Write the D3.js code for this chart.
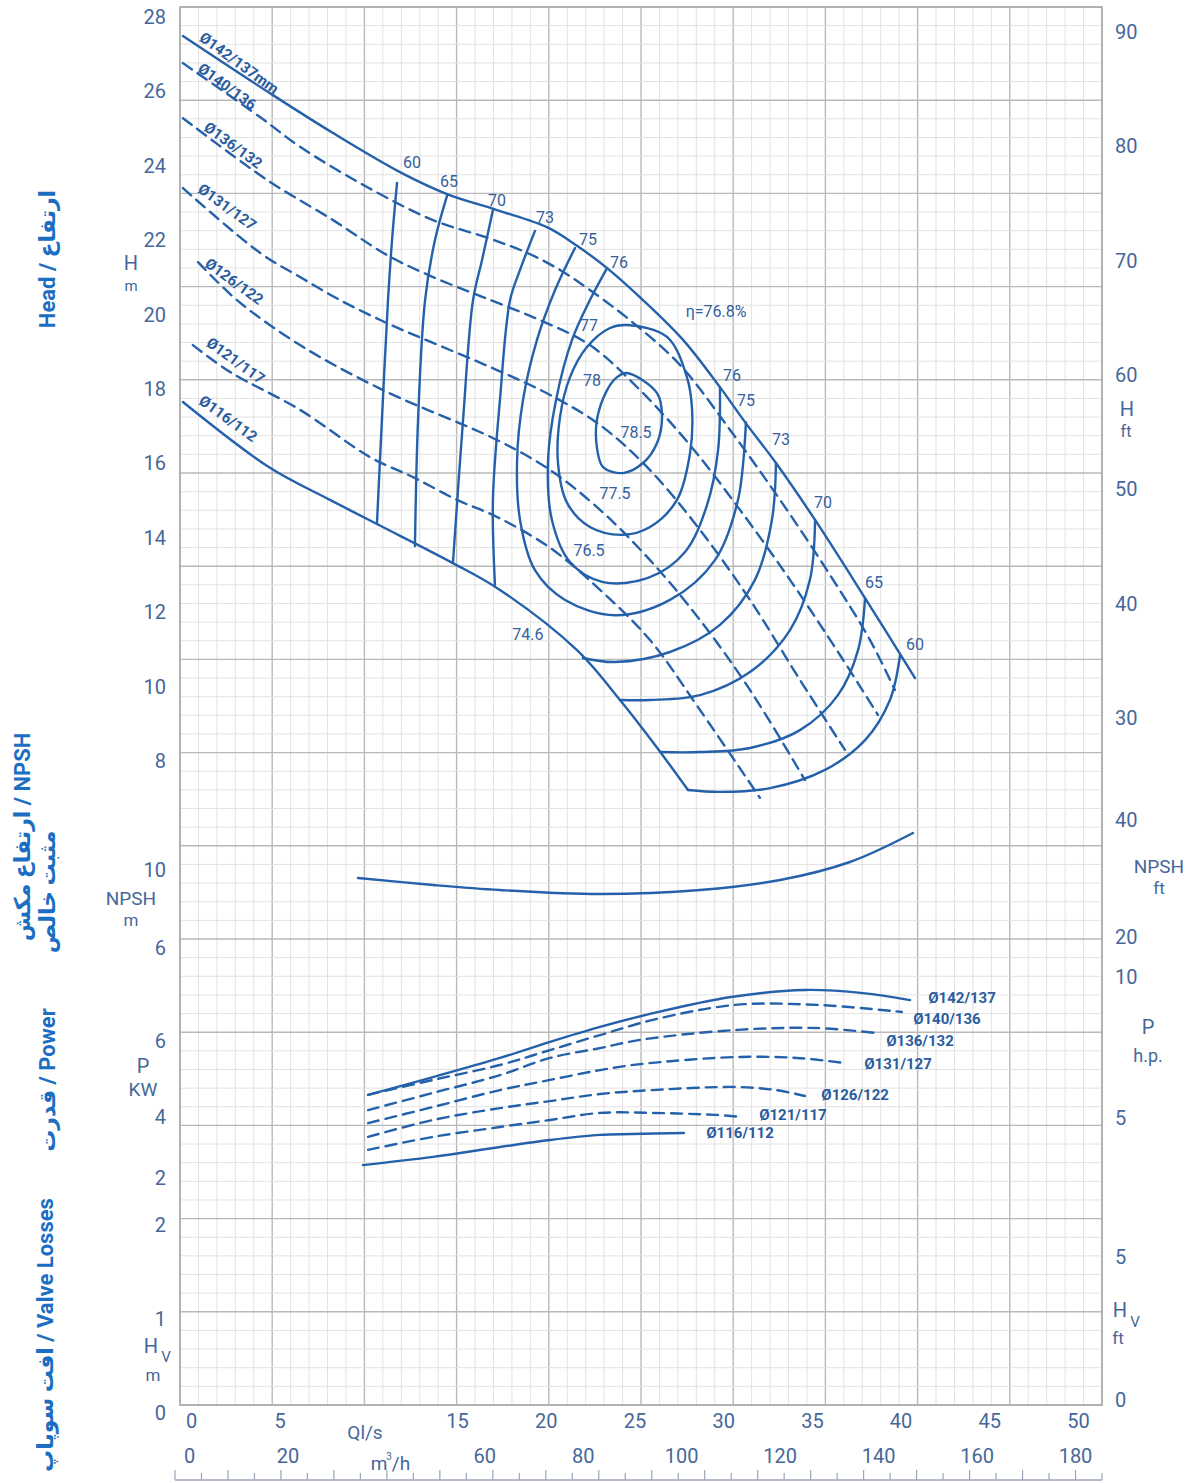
<!DOCTYPE html>
<html>
<head>
<meta charset="utf-8">
<script src="https://cdn.jsdelivr.net/npm/d3@7"></script>
<style>
  body { margin: 0; background: #fff; }
  text { font-family: Roboto, "DejaVu Sans", sans-serif; }
</style>
</head>
<body>
<svg id="chart" width="1195" height="1483"></svg>
<script>
// ---- data (flow Q in l/s, head in m, NPSH in ft, power in h.p.) ----
var qTicks = [0, 5, 15, 20, 25, 30, 35, 40, 45, 50];
var m3Ticks = [0, 20, 60, 80, 100, 120, 140, 160, 180];
var headTicks = [8, 10, 12, 14, 16, 18, 20, 22, 24, 26, 28];
var headFtTicks = [30, 40, 50, 60, 70, 80, 90];
var npshMTicks = [6, 10];
var npshFtTicks = [20, 40];
var kwTicks = [2, 4, 6];
var hpTicks = [5, 10];
var hvMTicks = [0, 1, 2];
var hvFtTicks = [0, 5];

// head curves per impeller
var head142 = [[0.16,27.49],[5.04,25.90],[8.30,24.88],[11.93,23.83],[14.48,23.24],[17.19,22.81],[19.90,22.35],[21.53,21.85],[23.16,21.25],[25.11,20.39],[27.28,19.32],[29.28,18.05],[30.64,17.11],[32.32,16.01],[34.44,14.48],[37.15,12.38],[39.86,10.23]];
var head140 = [[0.16,26.76],[4.34,25.31],[6.51,24.51],[10.14,23.43],[13.72,22.54],[16.70,22.06],[18.82,21.66],[20.61,21.20],[22.23,20.66],[24.40,19.85],[27.11,18.65],[29.83,16.90],[32.54,15.02],[35.25,13.00],[37.42,11.25],[38.77,9.91]];
var head136 = [[0.16,25.28],[4.72,23.62],[8.30,22.54],[11.23,21.60],[13.72,21.01],[16.43,20.47],[19.52,19.85],[22.23,19.18],[24.95,17.97],[27.66,16.49],[30.37,14.75],[33.08,12.87],[35.79,10.85],[37.85,9.24]];
var head131 = [[0.16,23.40],[4.34,21.66],[6.51,21.01],[8.68,20.39],[11.23,19.77],[13.72,19.24],[17.19,18.51],[20.07,17.84],[22.78,17.03],[25.49,15.82],[28.20,14.21],[30.91,12.33],[33.62,10.18],[36.06,8.30]];
var head126 = [[0.98,21.41],[3.09,20.39],[6.51,19.18],[11.01,17.97],[17.19,16.63],[20.07,15.82],[22.78,14.75],[25.49,13.40],[28.20,11.79],[30.91,9.91],[33.89,7.49]];
var head121 = [[0.70,19.18],[2.71,18.46],[6.51,17.44],[10.30,16.17],[12.64,15.63],[15.02,15.02],[17.19,14.56],[20.07,13.73],[22.78,12.60],[25.49,11.25],[28.20,9.37],[31.45,7.01]];
var head116 = [[0.16,17.65],[4.88,15.88],[8.13,15.02],[10.68,14.37],[14.80,13.32],[17.35,12.60],[21.53,10.98],[23.86,9.64],[25.76,8.43],[27.55,7.22]];

// iso-efficiency lines (%)
var eff60L = [[11.77,23.54],[11.50,22.01],[11.28,20.39],[10.95,17.17],[10.68,14.37]];
var eff65L = [[14.48,23.19],[13.83,22.01],[13.29,20.39],[12.91,17.17],[12.74,13.78]];
var eff70L = [[16.97,22.81],[16.38,21.47],[15.89,20.39],[15.35,17.17],[14.80,13.32]];
var eff73L = [[19.25,22.25],[18.44,21.20],[17.90,20.39],[17.35,17.70],[16.97,15.02],[17.08,12.73]];
var eff75 = [[21.42,21.79],[20.34,20.66],[19.36,19.32],[18.60,17.70],[18.28,16.09],[18.44,14.48],[19.25,13.13],[20.88,12.33],[23.59,11.92],[26.57,12.33],[29.01,13.40],[30.26,15.02],[30.69,17.11]];
var eff76 = [[23.16,21.25],[22.23,20.39],[21.26,19.32],[20.39,17.70],[19.96,16.09],[20.17,14.48],[21.15,13.35],[22.94,12.81],[25.38,12.92],[27.39,13.62],[28.58,14.88],[29.18,16.36],[29.28,18.05]];
var eff77 = [[24.24,19.72],[26.41,19.40],[27.49,18.32],[27.77,17.44],[27.66,16.28],[26.95,15.02],[25.49,14.29],[24.02,14.08],[22.23,14.29],[20.99,14.94],[20.50,16.01],[20.61,17.25],[21.15,18.32],[22.07,19.13],[23.32,19.64]];
var eff78 = [[24.24,18.43],[25.87,17.89],[26.14,17.25],[25.87,16.55],[25.11,16.01],[24.02,15.74],[22.94,15.90],[22.61,16.43],[22.61,17.17],[23.16,17.97],[23.70,18.32]];
var eff73R = [[32.32,16.01],[32.10,14.48],[31.18,12.87],[29.28,11.66],[26.57,10.93],[23.59,10.66],[21.85,10.77]];
var eff70R = [[34.44,14.48],[34.16,12.87],[33.08,11.52],[30.91,10.39],[28.20,9.77],[25.49,9.64],[23.86,9.64]];
var eff65R = [[37.15,12.38],[36.77,10.98],[35.68,9.77],[33.62,8.83],[30.91,8.35],[28.20,8.24],[26.03,8.24]];
var eff60R = [[39.05,10.85],[38.50,9.64],[37.15,8.56],[34.98,7.76],[32.00,7.27],[29.28,7.17],[27.55,7.22]];

var effLabels = [["60",12.58,24.10],["65",14.59,23.59],["70",17.19,23.08],["73",19.79,22.62],["75",22.13,22.03],["76",23.81,21.39],
  ["77",22.18,19.72],["78",22.34,18.22],["78.5",24.73,16.84],["77.5",23.59,15.18],["76.5",22.18,13.67],["74.6",18.87,11.39],
  ["76",29.93,18.35],["75",30.69,17.70],["73",32.59,16.63],["70",34.87,14.94],["65",37.64,12.81],["60",39.86,11.12],
  ["\u03B7=76.8%",29.07,20.07]];

var headDiaLabels = [["Ø142/137mm",3.20,26.76],["Ø140/136",2.55,26.13],["Ø136/132",2.88,24.55],["Ø131/127",2.55,22.89],["Ø126/122",2.93,20.89],["Ø121/117",3.01,18.76],["Ø116/112",2.61,17.20]];

// NPSH required (ft)
var npsh = [[9.65,30.09],[13.72,28.89],[17.35,28.03],[22.78,27.35],[28.20,28.03],[32.54,29.74],[36.33,32.82],[39.75,37.78]];

// power absorbed (h.p.)
var pow142 = [[10.20,5.82],[13.72,6.45],[17.35,7.13],[20.07,7.70],[22.78,8.23],[25.49,8.69],[29.88,9.29],[33.89,9.54],[37.04,9.43],[39.59,9.18]];
var pow140 = [[10.20,5.82],[13.72,6.35],[17.35,6.88],[20.07,7.41],[22.78,7.94],[25.65,8.48],[30.10,9.01],[34.54,9.01],[39.15,8.76]];
var pow136 = [[10.20,5.28],[13.72,5.89],[17.35,6.52],[20.07,7.13],[22.78,7.48],[24.95,7.77],[30.10,8.12],[34.54,8.19],[37.80,8.01]];
var pow131 = [[10.20,4.82],[13.72,5.39],[17.35,5.99],[20.07,6.35],[22.78,6.70],[24.95,6.91],[30.10,7.16],[33.46,7.13],[36.01,6.95]];
var pow126 = [[10.20,4.33],[13.72,4.93],[17.35,5.35],[20.07,5.60],[22.78,5.85],[25.65,5.99],[30.10,6.10],[32.32,5.99],[33.89,5.78]];
var pow121 = [[10.20,3.87],[13.72,4.33],[17.35,4.68],[20.07,4.93],[22.78,5.18],[25.65,5.18],[29.01,5.11],[30.42,5.04]];
var pow116 = [[9.92,3.33],[13.72,3.62],[17.35,3.97],[20.07,4.22],[22.78,4.40],[24.51,4.43],[27.33,4.47]];

var powLabels = [["Ø142/137",42.41,9.26],["Ø140/136",41.59,8.51],["Ø136/132",40.13,7.73],["Ø131/127",38.94,6.91],["Ø126/122",36.61,5.82],["Ø121/117",33.24,5.11],["Ø116/112",30.37,4.47]];

// ---- drawing ----
var svg = d3.select("#chart");
var blue = "#2461aa";
var tickColor = "#46679a";
var titleColor = "#1b6ec2";

var x = d3.scaleLinear().domain([0, 50]).range([180, 1102]);
var xLab = d3.scaleLinear().domain([0, 50]).range([191, 1078]);
var xM3 = d3.scaleLinear().domain([0, 180]).range([189, 1075]);
var xTickRow = d3.scaleLinear().domain([0, 35]).range([175, 1102]);
var sheetRow = d3.scaleLinear().domain([0, 75]).range([7, 1405]);

var yHead = d3.scaleLinear().domain([8, 28]).range([761, 17]);
var yHeadFt = d3.scaleLinear().domain([30, 90]).range([718, 32]);
var yNpshM = d3.scaleLinear().domain([6, 10]).range([948, 870]);
var yNpshFt = d3.scaleLinear().domain([20, 40]).range([937, 820]);
var yKw = d3.scaleLinear().domain([2, 4, 6]).range([1178, 1117, 1041]);
var yHp = d3.scaleLinear().domain([5, 10]).range([1118, 977]);
var yHvM = d3.scaleLinear().domain([0, 2]).range([1413, 1225]);
var yHvFt = d3.scaleLinear().domain([0, 5]).range([1400, 1257]);

// graph paper grid
var grid = svg.append("g");
grid.selectAll(".vmin").data(d3.range(0, 51)).enter().append("line")
    .attr("x1", function (d) { return x(d); }).attr("x2", function (d) { return x(d); })
    .attr("y1", sheetRow(0)).attr("y2", sheetRow(75))
    .attr("stroke", function (d) { return d % 5 === 0 ? "#b9b9b9" : "#e2e2e2"; })
    .attr("stroke-width", function (d) { return d % 5 === 0 ? 1.4 : 1; });
grid.selectAll(".hmin").data(d3.range(0, 76)).enter().append("line")
    .attr("x1", x(0)).attr("x2", x(50))
    .attr("y1", function (d) { return sheetRow(d); }).attr("y2", function (d) { return sheetRow(d); })
    .attr("stroke", function (d) { return d % 5 === 0 ? "#b9b9b9" : "#e2e2e2"; })
    .attr("stroke-width", function (d) { return d % 5 === 0 ? 1.4 : 1; });
grid.append("rect").attr("x", x(0)).attr("y", sheetRow(0))
    .attr("width", x(50) - x(0)).attr("height", sheetRow(75) - sheetRow(0))
    .attr("fill", "none").attr("stroke", "#a9a9a9").attr("stroke-width", 1.5);

// axes (labels only)
var fmt = d3.format("d");
function labelAxis(axis, tx, ty) {
    var g = svg.append("g").attr("transform", "translate(" + tx + "," + ty + ")")
        .call(axis.tickSize(0).tickPadding(0).tickFormat(fmt));
    g.select(".domain").remove();
    g.selectAll("text").attr("fill", tickColor).style("font-size", "20px")
        .style("font-family", "Roboto, 'DejaVu Sans', sans-serif");
    return g;
}
labelAxis(d3.axisLeft(yHead).tickValues(headTicks), 166, 0);
labelAxis(d3.axisLeft(yNpshM).tickValues(npshMTicks), 166, 0);
labelAxis(d3.axisLeft(yKw).tickValues(kwTicks), 166, 0);
labelAxis(d3.axisLeft(yHvM).tickValues(hvMTicks), 166, 0);
labelAxis(d3.axisRight(yHeadFt).tickValues(headFtTicks), 1115, 0);
labelAxis(d3.axisRight(yNpshFt).tickValues(npshFtTicks), 1115, 0);
labelAxis(d3.axisRight(yHp).tickValues(hpTicks), 1115, 0);
labelAxis(d3.axisRight(yHvFt).tickValues(hvFtTicks), 1115, 0);
labelAxis(d3.axisBottom(xLab).tickValues(qTicks), 0, 1414);
labelAxis(d3.axisBottom(xM3).tickValues(m3Ticks), 0, 1449);

// bottom tick row
var tickRow = svg.append("g");
tickRow.append("line").attr("x1", xTickRow(0)).attr("x2", xTickRow(35))
    .attr("y1", 1480).attr("y2", 1480).attr("stroke", "#9aa6b8").attr("stroke-width", 1.5);
tickRow.selectAll(".tk").data(d3.range(0, 36)).enter().append("line")
    .attr("x1", function (d) { return xTickRow(d); }).attr("x2", function (d) { return xTickRow(d); })
    .attr("y1", 1480).attr("y2", function (d) { return d % 2 === 0 ? 1470 : 1473; })
    .attr("stroke", "#9aa6b8").attr("stroke-width", 1.2);

// unit captions
function caption(t, cx, cy, size, anchor) {
    return svg.append("text").attr("x", cx).attr("y", cy).attr("text-anchor", anchor || "middle")
        .attr("dominant-baseline", "central").attr("fill", tickColor).style("font-size", size + "px").text(t);
}
caption("H", 131, 263, 20); caption("m", 131, 286, 15);
caption("H", 1127, 409, 20); caption("ft", 1126, 431, 16);
caption("NPSH", 131, 898, 19); caption("m", 131, 920, 17);
caption("NPSH", 1159, 866, 19); caption("ft", 1159, 888, 17);
caption("P", 143, 1066, 20); caption("KW", 143, 1089, 19);
caption("P", 1148, 1027, 20); caption("h.p.", 1148, 1055, 18);
caption("H", 151, 1346, 20); caption("V", 166, 1357, 15); caption("m", 153, 1375, 17);
caption("H", 1120, 1310, 20); caption("V", 1135, 1322, 15); caption("ft", 1118, 1338, 17);
caption("Ql/s", 365, 1432, 19);
caption("m", 379, 1463, 19);
caption("3", 389, 1456, 10); caption("/h", 401, 1463, 19);

// side titles
function sideTitle(lines, cx, cy) {
    lines.forEach(function (l) {
        svg.append("text")
            .attr("transform", "translate(" + (cx + l[1]) + "," + (cy + l[2]) + ") rotate(-90)")
            .attr("text-anchor", "middle").attr("dominant-baseline", "central")
            .attr("fill", titleColor).style("font-weight", "bold").style("font-size", "22px")
            .text(l[0]);
    });
}
sideTitle([["Head  /  ارتفاع", 0, 0]], 47, 259);
sideTitle([["ارتفاع مکش   /  NPSH", 0, 0], ["مثبت خالص", 25, 55]], 22, 837);
sideTitle([["قدرت  /  Power", 0, 0]], 47, 1080);
sideTitle([["افت سوپاپ  /  Valve Losses", 0, 0]], 45, 1335);

// curves
var headLine = d3.line().x(function (d) { return x(d[0]); }).y(function (d) { return yHead(d[1]); })
    .curve(d3.curveCatmullRom.alpha(0.5));
var loopLine = d3.line().x(function (d) { return x(d[0]); }).y(function (d) { return yHead(d[1]); })
    .curve(d3.curveCatmullRomClosed.alpha(0.5));
var npshLine = d3.line().x(function (d) { return x(d[0]); }).y(function (d) { return yNpshFt(d[1]); })
    .curve(d3.curveCatmullRom.alpha(0.5));
var powLine = d3.line().x(function (d) { return x(d[0]); }).y(function (d) { return yHp(d[1]); })
    .curve(d3.curveCatmullRom.alpha(0.5));

var curves = svg.append("g").attr("fill", "none").attr("stroke", blue).attr("stroke-linecap", "round");

function draw(gen, data, dashed) {
    curves.append("path").attr("d", gen(data))
        .attr("stroke-width", 2.4)
        .attr("stroke-dasharray", dashed ? "11,7" : null);
}

[head140, head136, head131, head126, head121].forEach(function (c) { draw(headLine, c, true); });
draw(headLine, head142, false);
draw(headLine, head116, false);
[eff60L, eff65L, eff70L, eff73L, eff75, eff76, eff73R, eff70R, eff65R, eff60R].forEach(function (c) { draw(headLine, c, false); });
[eff77, eff78].forEach(function (c) { draw(loopLine, c, false); });
draw(npshLine, npsh, false);
[pow140, pow136, pow131, pow126, pow121].forEach(function (c) { draw(powLine, c, true); });
draw(powLine, pow142, false);
draw(powLine, pow116, false);

// curve labels
svg.selectAll(".eff").data(effLabels).enter().append("text")
    .attr("x", function (d) { return x(d[1]); }).attr("y", function (d) { return yHead(d[2]); })
    .attr("text-anchor", "middle").attr("dominant-baseline", "central")
    .attr("fill", "#35609e").style("font-size", "16px")
    .text(function (d) { return d[0]; });

svg.selectAll(".dia").data(headDiaLabels).enter().append("text")
    .attr("transform", function (d) { return "translate(" + x(d[1]) + "," + yHead(d[2]) + ") rotate(36)"; })
    .attr("text-anchor", "middle").attr("dominant-baseline", "central")
    .attr("fill", "#2a5c9e").style("font-size", "15px").style("font-weight", "bold")
    .text(function (d) { return d[0]; });

svg.selectAll(".pdia").data(powLabels).enter().append("text")
    .attr("x", function (d) { return x(d[1]); }).attr("y", function (d) { return yHp(d[2]); })
    .attr("text-anchor", "middle").attr("dominant-baseline", "central")
    .attr("fill", "#2a5c9e").style("font-size", "15px").style("font-weight", "bold")
    .text(function (d) { return d[0]; });
</script>
</body>
</html>
